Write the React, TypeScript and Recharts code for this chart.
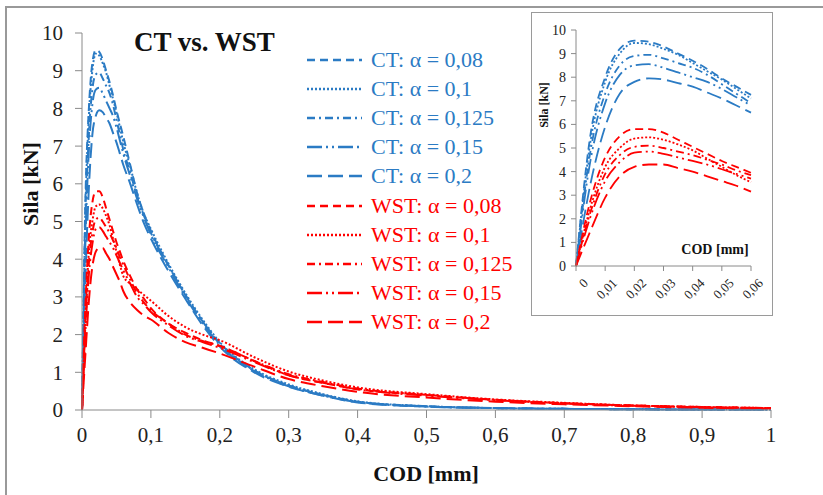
import { LineChart, Line, XAxis, YAxis, Legend, Label } from 'recharts'

const SERIF = '"Liberation Serif", "DejaVu Serif", "Noto Serif", Tinos, serif'
const BLUE = '#2b7bc4'
const RED = '#ff0000'
const AXIS = '#8a8a8a'

const COD = [0, 0.005, 0.01, 0.015, 0.02, 0.025, 0.03, 0.035, 0.04, 0.045, 0.05, 0.055, 0.06, 0.07, 0.08, 0.09, 0.1, 0.125, 0.15, 0.175, 0.2, 0.25, 0.3, 0.35, 0.4, 0.5, 0.6, 0.7, 0.8, 0.9, 1]

const CT_008 = [0, 5.6, 8.0, 9.2, 9.55, 9.5, 9.3, 9.0, 8.7, 8.35, 7.95, 7.6, 7.25, 6.5, 5.75, 5.2, 4.75, 3.85, 3.05, 2.35, 1.78, 1.05, 0.65, 0.4, 0.22, 0.1, 0.05, 0.03, 0.02, 0.01, 0.01]
const CT_01 = [0, 5.3, 7.8, 9.0, 9.45, 9.4, 9.2, 8.95, 8.6, 8.25, 7.9, 7.5, 7.1, 6.45, 5.75, 5.2, 4.8, 3.9, 3.1, 2.4, 1.8, 1.08, 0.68, 0.42, 0.23, 0.1, 0.05, 0.03, 0.02, 0.01, 0.01]
const CT_0125 = [0, 4.9, 7.3, 8.5, 8.9, 8.95, 8.8, 8.6, 8.4, 8.1, 7.7, 7.3, 6.9, 6.3, 5.65, 5.15, 4.7, 3.85, 3.05, 2.35, 1.75, 1.05, 0.65, 0.4, 0.22, 0.1, 0.05, 0.03, 0.02, 0.01, 0.01]
const CT_015 = [0, 4.5, 6.9, 8.1, 8.5, 8.55, 8.4, 8.2, 8.0, 7.8, 7.5, 7.15, 6.8, 6.2, 5.6, 5.1, 4.65, 3.8, 3.0, 2.3, 1.72, 1.03, 0.63, 0.38, 0.21, 0.09, 0.05, 0.03, 0.02, 0.01, 0.01]
const CT_02 = [0, 3.5, 5.9, 7.3, 7.8, 7.95, 7.9, 7.75, 7.6, 7.35, 7.1, 6.8, 6.5, 6.0, 5.45, 4.95, 4.55, 3.7, 2.95, 2.25, 1.68, 1.0, 0.62, 0.38, 0.2, 0.09, 0.05, 0.03, 0.02, 0.01, 0.01]

const WST_008 = [0, 2.8, 4.6, 5.5, 5.8, 5.8, 5.65, 5.35, 5.05, 4.75, 4.45, 4.2, 3.95, 3.55, 3.2, 2.95, 2.7, 2.3, 2.05, 1.85, 1.7, 1.3, 0.92, 0.72, 0.55, 0.4, 0.27, 0.18, 0.12, 0.08, 0.05]
const WST_01 = [0, 2.5, 4.2, 5.0, 5.4, 5.45, 5.35, 5.15, 4.9, 4.55, 4.2, 3.85, 3.55, 3.35, 3.2, 3.05, 2.9, 2.5, 2.2, 2.0, 1.85, 1.4, 1.02, 0.78, 0.6, 0.42, 0.28, 0.19, 0.12, 0.08, 0.05]
const WST_0125 = [0, 2.3, 3.9, 4.7, 5.05, 5.1, 5.0, 4.85, 4.7, 4.5, 4.3, 4.05, 3.85, 3.45, 3.1, 2.85, 2.65, 2.3, 2.0, 1.83, 1.7, 1.3, 0.95, 0.74, 0.57, 0.4, 0.27, 0.18, 0.12, 0.08, 0.05]
const WST_015 = [0, 2.1, 3.6, 4.4, 4.8, 4.85, 4.75, 4.6, 4.45, 4.3, 4.1, 3.9, 3.7, 3.35, 3.0, 2.8, 2.6, 2.25, 1.97, 1.8, 1.65, 1.27, 0.92, 0.72, 0.55, 0.38, 0.26, 0.17, 0.11, 0.07, 0.05]
const WST_02 = [0, 1.5, 2.9, 3.8, 4.2, 4.3, 4.3, 4.15, 4.0, 3.8, 3.6, 3.4, 3.15, 2.85, 2.65, 2.5, 2.4, 2.05, 1.8, 1.65, 1.5, 1.15, 0.82, 0.63, 0.48, 0.33, 0.22, 0.15, 0.1, 0.06, 0.04]

const X_TICKS = [0, 0.1, 0.2, 0.3, 0.4, 0.5, 0.6, 0.7, 0.8, 0.9, 1]
const INSET_X_TICKS = [0, 0.01, 0.02, 0.03, 0.04, 0.05, 0.06]
const Y_TICKS = [0, 1, 2, 3, 4, 5, 6, 7, 8, 9, 10]

const SERIES = [
  { key: 'ct008', label: 'CT: α = 0,08', values: CT_008, color: BLUE, dash: '8 5' },
  { key: 'ct01', label: 'CT: α = 0,1', values: CT_01, color: BLUE, dash: '2 2' },
  { key: 'ct0125', label: 'CT: α = 0,125', values: CT_0125, color: BLUE, dash: '8 4 2 4' },
  { key: 'ct015', label: 'CT: α = 0,15', values: CT_015, color: BLUE, dash: '15 4 2 4 2 4' },
  { key: 'ct02', label: 'CT: α = 0,2', values: CT_02, color: BLUE, dash: '15 6' },
  { key: 'wst008', label: 'WST: α = 0,08', values: WST_008, color: RED, dash: '8 5' },
  { key: 'wst01', label: 'WST: α = 0,1', values: WST_01, color: RED, dash: '2 2' },
  { key: 'wst0125', label: 'WST: α = 0,125', values: WST_0125, color: RED, dash: '8 4 2 4' },
  { key: 'wst015', label: 'WST: α = 0,15', values: WST_015, color: RED, dash: '15 4 2 4 2 4' },
  { key: 'wst02', label: 'WST: α = 0,2', values: WST_02, color: RED, dash: '15 6' },
]

const rows = COD.map((cod, i) => {
  const row: Record<string, number> = { cod }
  SERIES.forEach(s => { row[s.key] = s.values[i] })
  return row
})
const insetRows = rows.filter(r => r.cod <= 0.06 + 1e-9)

const fmt = (v: number) => String(v).replace('.', ',')

const renderLegend = () => (
  <div>
    {SERIES.map(s => (
      <div key={s.key} style={{ display: 'flex', alignItems: 'center', height: 29.2 }}>
        <svg width={58} height={10}>
          <line x1={2} y1={5} x2={57} y2={5} stroke={s.color} strokeWidth={2.5} strokeDasharray={s.dash} />
        </svg>
        <span style={{ marginLeft: 8, color: s.color, fontSize: 22, fontFamily: SERIF, lineHeight: 1, whiteSpace: 'nowrap' }}>{s.label}</span>
      </div>
    ))}
  </div>
)

const InsetTick = (props: any) => {
  const { x, y, payload } = props
  return (
    <text x={x + 6} y={y + 4} transform={`rotate(-45 ${x + 6} ${y + 4})`} textAnchor="end"
      dominantBaseline="hanging" fontSize={13} fontFamily={SERIF} fill="#222">
      {fmt(payload.value)}
    </text>
  )
}

export default function App() {
  return (
    <div style={{ position: 'absolute', left: 0, top: 0, width: 823, height: 495, background: '#fff', overflow: 'hidden', fontFamily: SERIF }}>
      <div style={{ position: 'absolute', left: 5, top: 6, width: 840, height: 520, borderTop: '2px solid #999', borderLeft: '2px solid #999' }} />

      <div style={{ position: 'absolute', left: 0, top: 0 }}>
        <LineChart width={823} height={495} data={rows} margin={{ top: 33, right: 52, left: 42, bottom: 55 }}>
          <XAxis dataKey="cod" type="number" domain={[0, 1]} ticks={X_TICKS} tickFormatter={fmt}
            height={30} tickSize={8} tickMargin={9} stroke={AXIS}
            tick={{ fill: '#222', fontSize: 21, fontFamily: SERIF }}>
            <Label content={() => (
              <text x={426} y={476} textAnchor="middle" dominantBaseline="middle" fontSize={22}
                fontWeight="bold" fontFamily={SERIF} fill="#111">COD [mm]</text>
            )} />
          </XAxis>
          <YAxis type="number" domain={[0, 10]} ticks={Y_TICKS} width={40} tickSize={7} tickMargin={12}
            stroke={AXIS} tick={{ fill: '#222', fontSize: 21, fontFamily: SERIF }}>
            <Label content={() => (
              <text x={33} y={184} transform="rotate(-90 33 184)" textAnchor="middle" dominantBaseline="middle"
                fontSize={22} fontWeight="bold" fontFamily={SERIF} fill="#111">Sila [kN]</text>
            )} />
          </YAxis>
          <Legend layout="vertical" align="center" verticalAlign="middle" content={renderLegend}
            wrapperStyle={{ left: 305, top: 45, width: 240, height: 300 }} />
          {SERIES.map(s => (
            <Line key={s.key} dataKey={s.key} type="monotone" stroke={s.color} strokeWidth={2}
              strokeDasharray={s.dash} dot={false} isAnimationActive={false} />
          ))}
        </LineChart>
      </div>

      <div style={{ position: 'absolute', left: 134, top: 27, fontFamily: SERIF, fontWeight: 'bold', fontSize: 27, color: '#111', whiteSpace: 'nowrap' }}>
        CT vs. WST
      </div>

      <div style={{ position: 'absolute', left: 531, top: 12, width: 240, height: 302, background: '#fff', border: '1.5px solid #9a9a9a' }}>
        <LineChart width={240} height={302} data={insetRows} margin={{ top: 17, right: 21, left: 14, bottom: 9 }}>
          <XAxis dataKey="cod" type="number" domain={[0, 0.06]} ticks={INSET_X_TICKS} height={40}
            tickSize={5} stroke={AXIS} tick={<InsetTick />} interval={0}>
            <Label content={() => (
              <text x={183} y={238} textAnchor="middle" dominantBaseline="middle" fontSize={14}
                fontWeight="bold" fontFamily={SERIF} fill="#111">COD [mm]</text>
            )} />
          </XAxis>
          <YAxis type="number" domain={[0, 10]} ticks={Y_TICKS} width={30} tickSize={5} tickMargin={5}
            stroke={AXIS} tick={{ fill: '#222', fontSize: 14, fontFamily: SERIF }} interval={0}>
            <Label content={() => (
              <text x={13} y={92} transform="rotate(-90 13 92)" textAnchor="middle" dominantBaseline="middle"
                fontSize={12} fontWeight="bold" fontFamily={SERIF} fill="#111">Sila [kN]</text>
            )} />
          </YAxis>
          {SERIES.map(s => (
            <Line key={s.key} dataKey={s.key} type="monotone" stroke={s.color} strokeWidth={1.8}
              strokeDasharray={s.dash} dot={false} isAnimationActive={false} />
          ))}
        </LineChart>
      </div>
    </div>
  )
}
